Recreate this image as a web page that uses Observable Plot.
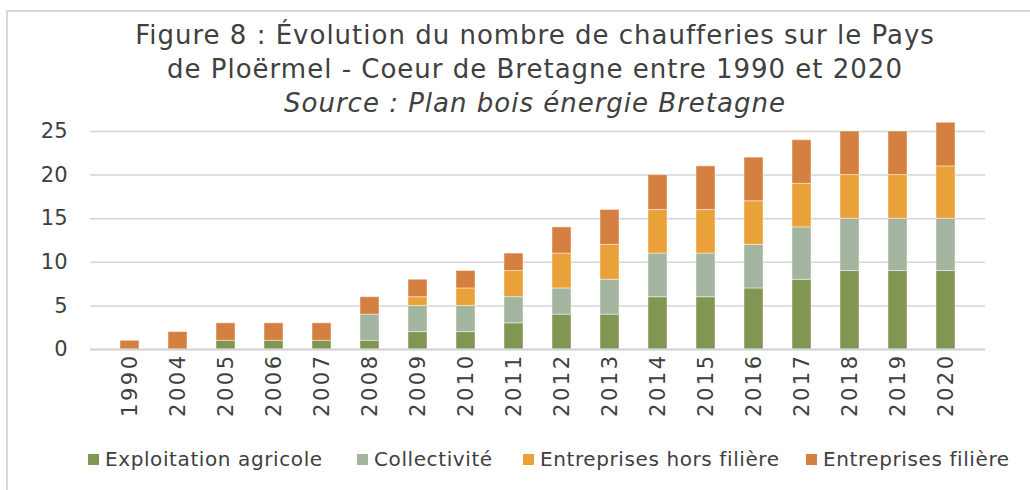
<!DOCTYPE html>
<html>
<head>
<meta charset="utf-8">
<script src="https://cdn.jsdelivr.net/npm/d3@7"></script>
<script src="https://cdn.jsdelivr.net/npm/@observablehq/plot@0.6"></script>
<style>
  html, body { margin: 0; padding: 0; background: #fff; }
  body { font-family: "DejaVu Sans", sans-serif; color: #404040; }
  #wrap { position: relative; width: 1030px; height: 490px; overflow: hidden; }
  #frame { position: absolute; left: 6px; top: 10px; right: -10px; bottom: -10px;
           border-top: 2px solid #d9d9d9; border-left: 2px solid #d9d9d9; }
  #title { position: absolute; left: 40px; width: 990px; top: 18px; text-align: center;
           font-size: 26px; letter-spacing: 1px; line-height: 34px; color: #404040; }
  #title .src { font-style: italic; }
  #chart { position: absolute; left: 0; top: 115px; }
  #legend { position: absolute; top: 447px; left: 0; width: 1030px; height: 30px; font-size: 20px; letter-spacing: 0.6px; color: #404040; }
  .item { position: absolute; top: 0; display: flex; align-items: center; white-space: nowrap; }
  .sw { width: 11px; height: 11px; margin-right: 6px; }
</style>
</head>
<body>
<div id="wrap">
  <div id="frame"></div>
  <div id="title">Figure 8 : Évolution du nombre de chaufferies sur le Pays<br>de Ploërmel - Coeur de Bretagne entre 1990 et 2020<br><span class="src">Source : Plan bois énergie Bretagne</span></div>
  <div id="chart"></div>
  <div id="legend"></div>
</div>
<script>
const years = ["1990","2004","2005","2006","2007","2008","2009","2010","2011","2012","2013","2014","2015","2016","2017","2018","2019","2020"];
const series = ["Exploitation agricole", "Collectivité", "Entreprises hors filière", "Entreprises filière"];
const colors = ["#809652", "#a3b49f", "#eaa137", "#d57f40"];
const agricole = [0,0,1,1,1,1,2,2,3,4,4,6,6,7,8,9,9,9];
const collectivite = [0,0,0,0,0,3,3,3,3,3,4,5,5,5,6,6,6,6];
const horsFiliere = [0,0,0,0,0,0,1,2,3,4,4,5,5,5,5,5,5,6];
const filiere = [1,2,2,2,2,2,2,2,2,3,4,4,5,5,5,5,5,5];
const yTicks = [0,5,10,15,20,25];

const values = [agricole, collectivite, horsFiliere, filiere];
const data = [];
series.forEach((s, i) => years.forEach((y, j) => data.push({year: y, series: s, value: values[i][j]})));

const chart = Plot.plot({
  width: 1030,
  height: 320,
  marginLeft: 90,
  marginRight: 45,
  marginTop: 16,
  marginBottom: 86,
  style: { fontFamily: "DejaVu Sans, sans-serif", fontSize: "21px", color: "#404040", background: "transparent" },
  x: { domain: years, padding: 0.6, label: null, tickSize: 0, tickPadding: 4, tickRotate: -90 },
  y: { domain: [0, 25], ticks: yTicks, label: null, tickSize: 0, tickPadding: 23 },
  color: { domain: series, range: colors },
  marks: [
    Plot.gridY(yTicks, { stroke: "#d4d4d4", strokeOpacity: 1, strokeWidth: 1.5 }),
    Plot.barY(data, { x: "year", y: "value", fill: "series", order: series,
                      stroke: "white", strokeOpacity: 0.45, strokeWidth: 1 }),
    Plot.ruleY([0], { stroke: "#d4d4d4", strokeWidth: 2 })
  ]
});
chart.querySelectorAll("[aria-label='x-axis tick label'] text").forEach(t => t.setAttribute("letter-spacing", "2.5"));
document.getElementById("chart").appendChild(chart);

const legendX = [88, 357, 523, 806];
const legend = document.getElementById("legend");
series.forEach((s, i) => {
  const item = document.createElement("div");
  item.className = "item";
  item.style.left = legendX[i] + "px";
  const sw = document.createElement("div");
  sw.className = "sw";
  sw.style.background = colors[i];
  const t = document.createElement("span");
  t.textContent = s;
  item.appendChild(sw);
  item.appendChild(t);
  legend.appendChild(item);
});
</script>
</body>
</html>
